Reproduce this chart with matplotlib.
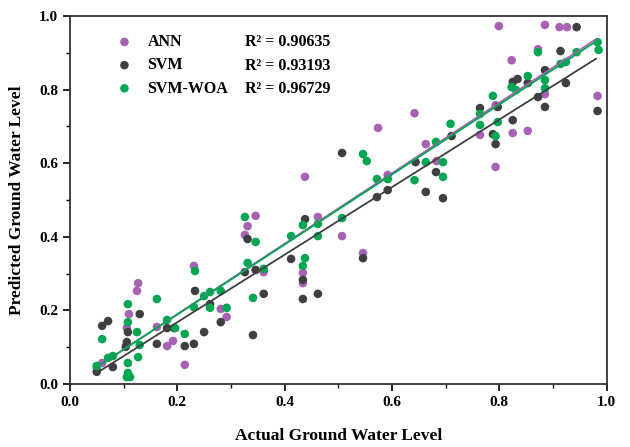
import matplotlib
matplotlib.use("Agg")
import matplotlib.pyplot as plt
from matplotlib.ticker import MultipleLocator

plt.rcParams['font.family'] = ['Liberation Serif', 'DejaVu Serif']
plt.rcParams['font.weight'] = 'bold'

# ANN
ann_x = [0.050, 0.060, 0.106, 0.110, 0.125, 0.127, 0.162, 0.181, 0.192, 0.214,
         0.231, 0.281, 0.292, 0.326, 0.331, 0.346, 0.361, 0.434, 0.434, 0.438,
         0.462, 0.507, 0.546, 0.574, 0.592, 0.642, 0.663, 0.683, 0.764, 0.793,
         0.793, 0.799, 0.823, 0.825, 0.853, 0.872, 0.885, 0.885, 0.912, 0.926,
         0.983]
ann_y = [0.043, 0.057, 0.152, 0.190, 0.253, 0.274, 0.155, 0.103, 0.117, 0.052,
         0.321, 0.204, 0.182, 0.405, 0.429, 0.457, 0.304, 0.302, 0.274, 0.563,
         0.454, 0.402, 0.356, 0.696, 0.568, 0.736, 0.652, 0.606, 0.677, 0.758,
         0.590, 0.973, 0.880, 0.682, 0.688, 0.910, 0.976, 0.788, 0.970, 0.970,
         0.783]

# SVM
svm_x = [0.050, 0.080, 0.060, 0.071, 0.104, 0.106, 0.108, 0.130, 0.162, 0.181,
         0.194, 0.214, 0.231, 0.233, 0.250, 0.261, 0.281, 0.326, 0.331, 0.341,
         0.346, 0.361, 0.412, 0.434, 0.434, 0.438, 0.462, 0.507, 0.546, 0.572,
         0.592, 0.644, 0.663, 0.682, 0.695, 0.711, 0.764, 0.788, 0.793, 0.797,
         0.825, 0.834, 0.825, 0.853, 0.872, 0.885, 0.885, 0.914, 0.924, 0.944,
         0.983]
svm_y = [0.033, 0.046, 0.158, 0.171, 0.101, 0.114, 0.141, 0.190, 0.109, 0.152,
         0.152, 0.103, 0.109, 0.253, 0.141, 0.217, 0.168, 0.304, 0.394, 0.133,
         0.310, 0.245, 0.340, 0.283, 0.231, 0.448, 0.245, 0.628, 0.342, 0.508,
         0.527, 0.603, 0.522, 0.576, 0.505, 0.674, 0.750, 0.679, 0.652, 0.753,
         0.821, 0.829, 0.717, 0.818, 0.780, 0.853, 0.753, 0.905, 0.818, 0.970,
         0.742]

# SVM-WOA
woa_x = [0.050, 0.071, 0.080, 0.060, 0.106, 0.112, 0.108, 0.108, 0.108, 0.108,
         0.125, 0.130, 0.127, 0.162, 0.181, 0.196, 0.214, 0.231, 0.233, 0.250,
         0.261, 0.281, 0.261, 0.292, 0.331, 0.326, 0.346, 0.341, 0.361, 0.412,
         0.434, 0.434, 0.438, 0.462, 0.462, 0.507, 0.546, 0.553, 0.572, 0.592,
         0.642, 0.663, 0.682, 0.695, 0.695, 0.709, 0.764, 0.764, 0.788, 0.793,
         0.797, 0.823, 0.831, 0.853, 0.872, 0.885, 0.885, 0.914, 0.924, 0.944,
         0.983, 0.985]
woa_y = [0.049, 0.071, 0.076, 0.122, 0.019, 0.019, 0.030, 0.057, 0.168, 0.217,
         0.141, 0.106, 0.073, 0.231, 0.174, 0.152, 0.136, 0.209, 0.307, 0.239,
         0.250, 0.253, 0.207, 0.207, 0.329, 0.454, 0.386, 0.234, 0.313, 0.402,
         0.432, 0.321, 0.342, 0.435, 0.402, 0.451, 0.625, 0.606, 0.557, 0.557,
         0.554, 0.603, 0.658, 0.603, 0.563, 0.707, 0.734, 0.704, 0.783, 0.674,
         0.712, 0.807, 0.799, 0.837, 0.902, 0.826, 0.804, 0.870, 0.875, 0.902,
         0.929, 0.908]

names = ['ANN', 'SVM', 'SVM-WOA']
r2_values = ['0.90635', '0.93193', '0.96729']
# fitted line ends
fit_x = [0.05, 0.98]
fit_y = {'ANN': [0.046, 0.937], 'SVM': [0.030, 0.884], 'SVM-WOA': [0.046, 0.931]}

colors = {'ANN': '#a862b3', 'SVM': '#3f3f3f', 'SVM-WOA': '#00a651'}

fig = plt.figure(figsize=(6.3, 4.47), dpi=100)
ax = fig.add_axes([0.111, 0.141, 0.852, 0.823])

series = {'ANN': (ann_x, ann_y), 'SVM': (svm_x, svm_y), 'SVM-WOA': (woa_x, woa_y)}
for name in names:
    xs, ys = series[name]
    ax.scatter(xs, ys, s=38, color=colors[name], edgecolors='none', label=name, zorder=2)
for name in names:
    ax.plot(fit_x, fit_y[name], color=colors[name], lw=1.3, zorder=3)

ax.set_xlim(0, 1)
ax.set_ylim(0, 1)
ax.xaxis.set_major_locator(MultipleLocator(0.2))
ax.xaxis.set_minor_locator(MultipleLocator(0.1))
ax.yaxis.set_major_locator(MultipleLocator(0.2))
ax.yaxis.set_minor_locator(MultipleLocator(0.1))
ax.tick_params(which='major', direction='out', length=5, width=1.2, labelsize=11)
ax.tick_params(which='minor', direction='out', length=3, width=1.0)
for sp in ax.spines.values():
    sp.set_linewidth(1.3)
    sp.set_color('#333333')
ax.set_xlabel('Actual Ground Water Level', fontsize=12.5, fontweight='bold', labelpad=14)
ax.set_ylabel('Predicted Ground Water Level', fontsize=12.5, fontweight='bold', labelpad=10)

leg = ax.legend(loc='upper left', bbox_to_anchor=(0.045, 0.99), frameon=False,
                fontsize=11.5, handletextpad=0.45, labelspacing=0.45,
                markerscale=1.0, scatterpoints=1)
for i, r2 in enumerate(r2_values):
    ax.text(0.326, 0.929 - i * 0.064, 'R\u00b2 = ' + r2, transform=ax.transAxes,
            fontsize=11.5, fontweight='bold', va='center')

fig.savefig('out.png', dpi=100)
